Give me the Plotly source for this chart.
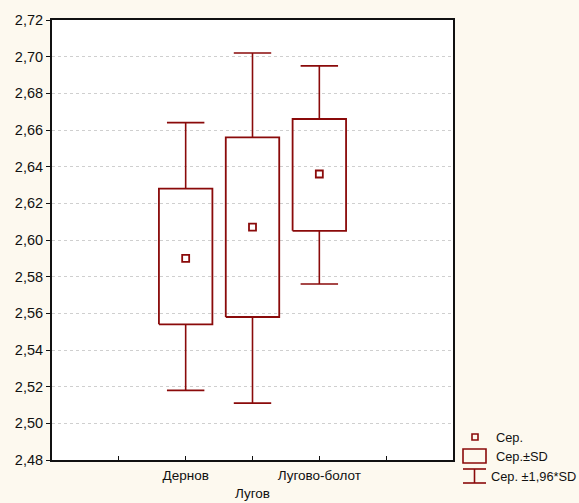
import plotly.graph_objects as go

categories = ["Дернов", "Лугов", "Лугово-болот"]
means = [2.590, 2.607, 2.636]
sd_low = [2.554, 2.558, 2.605]
sd_high = [2.628, 2.656, 2.666]
ci_low = [2.518, 2.511, 2.576]
ci_high = [2.664, 2.702, 2.695]
y_ticks = [2.48, 2.50, 2.52, 2.54, 2.56, 2.58, 2.60, 2.62, 2.64, 2.66, 2.68, 2.70, 2.72]

RED = "#8a0a0a"
positions = [1, 2, 3]
BOX_HALF = 0.4
CAP_HALF = 0.28

fig = go.Figure()

# whiskers
wx, wy = [], []
for p, lo, hi, slo, shi in zip(positions, ci_low, ci_high, sd_low, sd_high):
    wx += [p, p, None, p, p, None, p - CAP_HALF, p + CAP_HALF, None, p - CAP_HALF, p + CAP_HALF, None]
    wy += [shi, hi, None, slo, lo, None, hi, hi, None, lo, lo, None]
fig.add_trace(go.Scatter(x=wx, y=wy, mode="lines", line=dict(color=RED, width=1.6),
                         hoverinfo="skip", showlegend=False))

# boxes
bx, by = [], []
for p, slo, shi in zip(positions, sd_low, sd_high):
    bx += [p - BOX_HALF, p + BOX_HALF, p + BOX_HALF, p - BOX_HALF, p - BOX_HALF, None]
    by += [slo, slo, shi, shi, slo, None]
fig.add_trace(go.Scatter(x=bx, y=by, mode="lines", line=dict(color=RED, width=1.8),
                         hoverinfo="skip", showlegend=False))

# means
fig.add_trace(go.Scatter(x=positions, y=means, mode="markers",
                         marker=dict(symbol="square-open", size=7, color=RED, line=dict(width=1.8)),
                         showlegend=False))

X0, X1 = 52, 453
Y0, Y1 = 20, 460
def px(v):
    return (v - X0) / (X1 - X0)
def py(v):
    return (Y1 - v) / (Y1 - Y0)

shapes = [
    dict(type="rect", xref="paper", yref="paper", x0=px(472), x1=px(478), y0=py(434), y1=py(440),
         line=dict(color=RED, width=1.6)),
    dict(type="rect", xref="paper", yref="paper", x0=px(463), x1=px(486), y0=py(449), y1=py(463),
         line=dict(color=RED, width=1.6)),
    dict(type="line", xref="paper", yref="paper", x0=px(463), x1=px(486), y0=py(469), y1=py(469),
         line=dict(color=RED, width=1.6)),
    dict(type="line", xref="paper", yref="paper", x0=px(463), x1=px(486), y0=py(483), y1=py(483),
         line=dict(color=RED, width=1.6)),
    dict(type="line", xref="paper", yref="paper", x0=px(474.5), x1=px(474.5), y0=py(469), y1=py(483),
         line=dict(color=RED, width=1.6)),
]
legend_texts = [("Сер.", 494, 437), ("Сер.±SD", 494, 456), ("Сер. ±1,96*SD", 489, 476)]
annotations = [dict(text=t, xref="paper", yref="paper", x=px(x), y=py(y), xanchor="left", yanchor="middle",
                    showarrow=False, font=dict(size=12.8, color="#111"))
               for t, x, y in legend_texts]

fig.update_layout(
    width=579, height=503,
    margin=dict(l=X0, r=579 - X1, t=Y0, b=503 - Y1, pad=0, autoexpand=False),
    paper_bgcolor="#fdf9ef",
    plot_bgcolor="#ffffff",
    separators=",.",
    font=dict(family="Liberation Sans, Arial, sans-serif", size=13.5, color="#111"),
    shapes=shapes,
    annotations=annotations,
    showlegend=False,
)
fig.update_xaxes(
    range=[-1, 5],
    tickmode="array",
    tickvals=[0, 1, 2, 3, 4],
    ticktext=["", categories[0], "<br>" + categories[1], categories[2], ""],
    ticks="inside", ticklen=4, tickcolor="#111",
    ticklabelstandoff=2,
    automargin=False,
    showgrid=False, zeroline=False,
    showline=True, linecolor="#111", linewidth=2, mirror=True,
)
fig.update_yaxes(
    range=[2.48, 2.72],
    tickmode="array",
    tickvals=y_ticks,
    tickformat=".2f",
    ticks="outside", ticklen=4, tickcolor="#111",
    automargin=False,
    showgrid=True, gridcolor="#cfcfcf", griddash="dot", gridwidth=1,
    zeroline=False,
    showline=True, linecolor="#111", linewidth=2, mirror=True,
    tickfont=dict(size=14.5),
)

fig.write_html("out.html", config={"displayModeBar": False},
               post_script="document.body.style.margin='0';document.body.style.overflow='hidden';")
